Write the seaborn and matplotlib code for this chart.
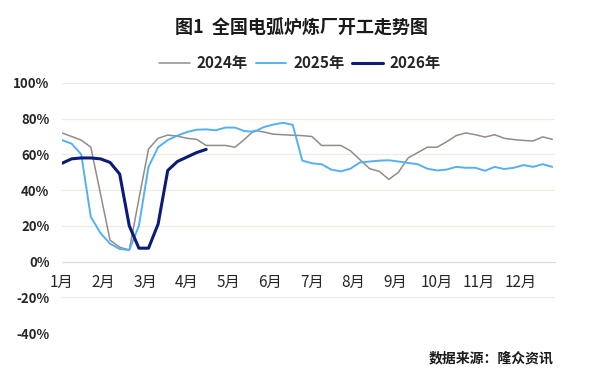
import matplotlib
matplotlib.use("Agg")
import matplotlib.pyplot as plt
import matplotlib.transforms as mtransforms
import numpy as np
import pandas as pd
import seaborn as sns

# weekly operating rate (%), week 0 = start of January
rate_2024 = [72, 70, 68, 64, 38, 12, 8, 6.5, 35, 63,
             69, 70.8, 70.2, 69, 68.4, 65, 65, 65, 64, 68.5,
             73.4, 72.5, 71.3, 71, 70.7, 70.5, 70, 65, 65, 65,
             62, 57, 52, 50.5, 46, 50, 58, 61, 64, 64,
             67, 70.5, 72, 71, 69.7, 71, 69, 68.3, 67.8, 67.5,
             69.8, 68.4]
rate_2025 = [68, 66, 60, 25, 16, 10, 7, 6.5, 20, 53,
             64, 68, 70.5, 72.5, 73.8, 74, 73.5, 75, 75, 73,
             72.7, 75.3, 76.7, 77.7, 76.5, 56.5, 55, 54.5, 51.5, 50.5,
             52, 55.5, 56, 56.5, 56.7, 56, 55.2, 54.5, 52, 51,
             51.5, 53, 52.5, 52.5, 50.8, 53, 51.8, 52.5, 54, 53,
             54.5, 53]
rate_2026 = [55, 57.5, 58, 58, 57.5, 55.5, 49, 20, 7.5, 7.5,
             21, 51, 56, 58.5, 61, 62.8]

series_names = ["2024年", "2025年", "2026年"]
month_labels = [f"{m}月" for m in range(1, 13)]
y_ticks = [-40, -20, 0, 20, 40, 60, 80, 100]

colors = {"2024年": "#958b85", "2025年": "#55b0f2", "2026年": "#0b1c78"}
widths = {"2024年": 1.1, "2025年": 1.4, "2026年": 2.2}

frames = []
for name, vals in zip(series_names, [rate_2024, rate_2025, rate_2026]):
    frames.append(pd.DataFrame({"week": np.arange(len(vals)), "rate": vals, "year": name}))
df = pd.concat(frames, ignore_index=True)

sns.set_theme(style="white")
plt.rcParams["font.family"] = ["Noto Sans CJK SC", "DejaVu Sans"]
plt.rcParams["axes.unicode_minus"] = False

fig = plt.figure(figsize=(6, 3.83), dpi=100)
ax = fig.add_axes([0.1033, 0.1305, 0.822, 0.653])

for name in series_names:
    sns.lineplot(data=df[df["year"] == name], x="week", y="rate", color=colors[name],
                 lw=widths[name], ax=ax, label=name, legend=False)

ax.set_xlim(0, 51.3)
ax.set_ylim(-40, 100)
ax.set_yticks(y_ticks)
ax.set_yticklabels([f"{v}%" for v in y_ticks], fontsize=9.5, fontweight="bold", color="#262626")
ax.yaxis.grid(True, color="#eeebe2", lw=0.9)
ax.set_axisbelow(True)

month_pos = np.arange(12) * 52 / 12
ax.set_xticks(month_pos)
ax.set_xticklabels(month_labels, fontsize=10, fontweight="bold", color="#262626")
ax.tick_params(axis="x", length=3, width=0.6, color="#dddddd", pad=6, direction="out")
ax.tick_params(axis="y", length=0, pad=9)
ax.set_xlabel("")
ax.set_ylabel("")

# month labels sit a little right of their ticks in the original
shift = mtransforms.ScaledTranslation(4 / 100, 0, fig.dpi_scale_trans)
for lbl in ax.get_xticklabels():
    lbl.set_transform(lbl.get_transform() + shift)

for side in ["top", "right", "left"]:
    ax.spines[side].set_visible(False)
ax.spines["bottom"].set_position(("data", 0))
ax.spines["bottom"].set_color("#dcdcdc")
ax.spines["bottom"].set_linewidth(0.8)

fig.text(0.503, 0.925, "图1  全国电弧炉炼厂开工走势图", ha="center", va="center",
         fontsize=13, fontweight="bold", color="#1a1a1a")

handles, labels = ax.get_legend_handles_labels()
fig.legend(handles, labels, loc="center", bbox_to_anchor=(0.5, 0.835), ncol=3,
           frameon=False, prop={"weight": "bold", "size": 11}, handlelength=2.0,
           handletextpad=0.45, columnspacing=0.5)

fig.text(0.922, 0.065, "数据来源：隆众资讯", ha="right", va="center",
         fontsize=10, fontweight="bold", color="#1a1a1a")

fig.savefig("out.png", dpi=100, facecolor="white")
